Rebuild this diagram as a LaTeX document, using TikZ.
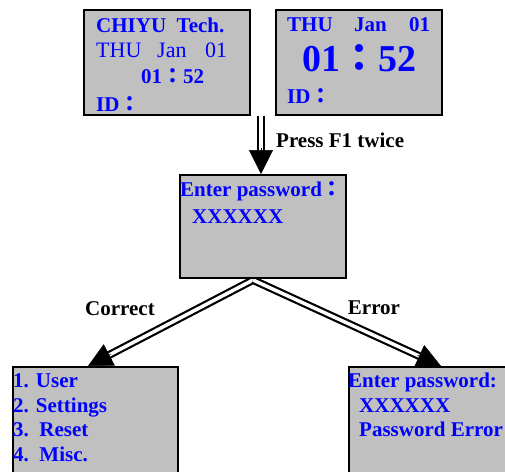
\documentclass[tikz,border=0pt]{standalone}
\usepackage{fontspec}
\setmainfont{Liberation Serif}
\newfontfamily\cjkfont{Noto Sans CJK TC}
\usetikzlibrary{arrows.meta,backgrounds,calc}
\definecolor{lcdblue}{RGB}{0,0,255}
\definecolor{lcdgray}{RGB}{192,192,192}
\newcommand{\fwcolon}{{\cjkfont ：}}
\begin{document}
\begin{tikzpicture}[x=1pt,y=-1pt,
  screen/.style={draw=black, fill=lcdgray, line width=2pt, anchor=north west, inner sep=0pt},
  lcd/.style={text=lcdblue, font=\fontsize{21}{25}\selectfont\bfseries, anchor=base west, inner sep=0pt},
  lcdreg/.style={lcd, font=\fontsize{22}{26}\selectfont},
  lcdbig/.style={lcd, font=\fontsize{38}{44}\selectfont\bfseries},
  lbl/.style={font=\fontsize{21}{25}\selectfont\bfseries, inner sep=0pt, text=black},
  dbl/.style={draw=black, double=white, double distance=3.5pt, line width=2.2pt},
  tiparrow/.style={-{Triangle[length=24pt,width=24pt]}, line width=0.5pt}]
\clip (0,0) rectangle (505,471);
% screens
\node[screen, minimum width=166pt, minimum height=105pt] (b1) at (83,9) {};
\node[screen, minimum width=166pt, minimum height=105pt] (b2) at (275,9) {};
\node[screen, minimum width=166pt, minimum height=103pt] (b3) at (179,174) {};
\node[screen, minimum width=165pt, minimum height=120pt] (b4) at (12,366) {};
\node[screen, minimum width=200pt, minimum height=120pt] (b5) at (348,366) {};
% screen 1
\node[lcd] (t1a) at (96,32) {CHIYU~~Tech.};
\node[lcdreg] (t1b) at (96,57) {THU};
\node[lcdreg] (t1c) at (157,57) {Jan};
\node[lcdreg] (t1d) at (205,57) {01};
\node[lcd] (t1e) at (141,83) {01\fwcolon 52};
\node[lcd] (t1f) at (96,111) {ID\fwcolon};
% screen 2
\node[lcd] (t2a) at (287,31) {THU};
\node[lcd] (t2b) at (354,31) {Jan};
\node[lcd] (t2c) at (409,31) {01};
\node[lcdbig] (t2d) at (302,71) {01\fwcolon 52};
\node[lcd] (t2e) at (287,103) {ID\fwcolon};
% screen 3
\node[lcd] (t3a) at (180,196) {Enter password\fwcolon};
\node[lcd] (t3b) at (192,223) {XXXXXX};
% screen 4
\node[lcd] (t4a) at (13,387) {1. User};
\node[lcd] (t4b) at (13,412) {2. Settings};
\node[lcd] (t4c) at (13,436) {3.~~Reset};
\node[lcd] (t4d) at (13,461) {4.~~Misc.};
% screen 5
\node[lcd] (t5a) at (348,387) {Enter password:};
\node[lcd] (t5b) at (359,412) {XXXXXX};
\node[lcd] (t5c) at (359,436) {Password Error};
% labels
\node[lbl, anchor=base west] (lpress) at (276,147) {Press F1 twice};
\node[lbl, anchor=base] (lcorrect) at (120,315) {Correct};
\node[lbl, anchor=base] (lerror) at (374,314) {Error};
% connectors
\coordinate (vs) at (261,116);
\coordinate (ve) at (vs |- b3.north);
\coordinate (split) at (253,280);
\coordinate (ltip) at (88,366);
\coordinate (rtip) at (441,366);
\begin{scope}[on background layer]
\draw[dbl, shorten >=20pt] (vs) -- (ve);
\draw[tiparrow] ($(ve)!26pt!(vs)$) -- (ve);
\draw[dbl, shorten >=18pt] (split) -- (ltip);
\draw[tiparrow] ($(ltip)!26pt!(split)$) -- (ltip);
\draw[dbl, shorten >=18pt] (split) -- (rtip);
\draw[tiparrow] ($(rtip)!26pt!(split)$) -- (rtip);
\end{scope}
\end{tikzpicture}
\end{document}
